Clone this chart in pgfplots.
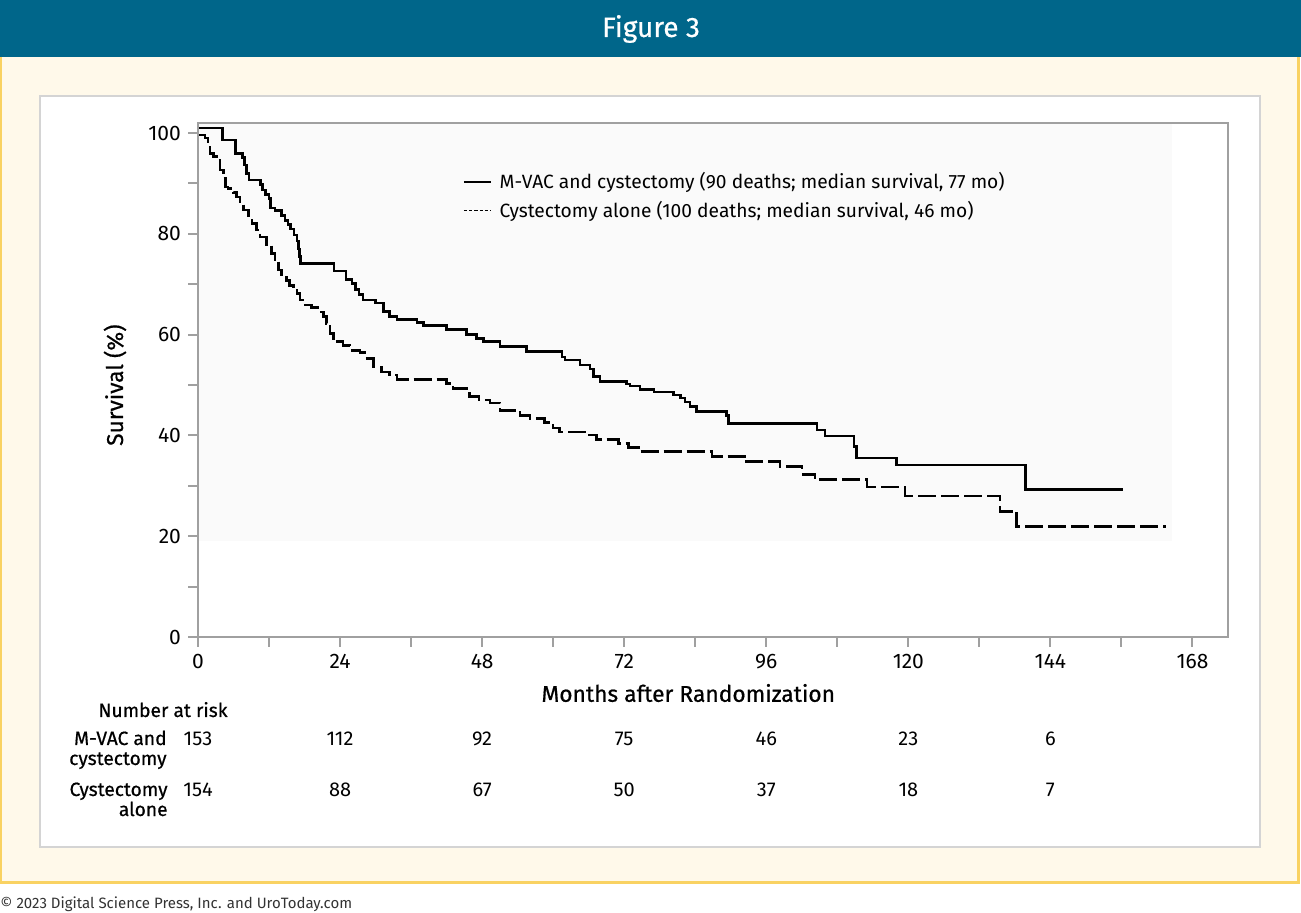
\documentclass[border=0pt]{standalone}
\usepackage{fontspec}
\setmainfont{Fira Sans}
\newfontfamily\medfont{Fira Sans}[FakeBold=0.6]
\usepackage{pgfplots}
\usepackage{pgfplotstable}
\pgfplotsset{compat=1.18}
\definecolor{headteal}{HTML}{00668A}
\definecolor{cream}{HTML}{FFF9EA}
\definecolor{gold}{HTML}{F9D262}
\definecolor{panelgray}{HTML}{D4D4D4}
\definecolor{axgray}{HTML}{A0A0A0}

\pgfplotstableread{
x y
0 101.0
4.1 98.6
6.3 96.0
7.5 95.2
7.9 93.7
8.2 92.0
8.6 90.7
10.6 89.8
10.9 88.7
11.4 87.8
12.0 87.0
12.2 85.1
13.0 84.6
14.1 83.7
14.7 82.7
15.2 81.8
15.6 81.0
16.2 79.8
16.7 78.6
17.0 77.0
17.1 75.5
17.3 74.1
23.0 72.6
25.0 71.0
26.0 70.2
26.6 69.0
27.2 68.0
27.9 66.9
30.0 66.3
31.3 64.6
32.4 63.6
33.6 63.0
37.0 62.4
38.1 61.8
42.0 61.0
45.4 60.0
47.0 59.2
48.2 58.6
51.0 57.6
55.5 56.6
61.5 55.6
62.0 55.0
64.5 54.0
66.2 53.2
66.8 51.7
67.9 50.7
72.4 50.2
73.0 49.8
74.7 49.1
77.0 48.6
80.3 48.0
81.5 47.4
82.3 46.6
83.1 45.7
84.2 44.7
89.3 44.0
89.6 42.4
104.6 41.1
105.9 39.9
110.8 37.8
111.2 35.5
118.0 34.1
139.8 29.3
156.3 29.3
}\mvac

\pgfplotstableread{
x y
0 99.6
1.2 99.0
1.7 98.0
2.0 96.0
2.6 95.3
3.2 94.6
3.7 92.7
4.3 91.0
4.6 89.3
5.1 89.0
6.0 88.2
6.5 87.3
7.1 86.0
7.7 84.7
8.5 83.6
9.1 82.1
9.9 80.8
10.5 79.4
11.6 77.8
12.4 76.1
13.0 74.8
13.6 72.8
14.1 71.8
15.0 70.8
15.5 69.8
16.1 69.2
16.7 68.2
17.2 66.9
18.1 65.9
19.2 65.4
20.3 64.5
21.2 63.6
21.7 62.2
22.3 60.2
22.9 58.6
24.5 57.9
25.7 56.9
27.4 56.5
28.2 55.3
29.6 53.6
31.0 52.6
32.4 52.0
33.6 51.1
42.0 50.3
43.1 49.3
45.4 48.8
45.9 47.7
47.5 47.0
49.3 46.4
51.0 45.0
54.4 44.0
56.1 43.4
58.5 42.6
60.0 41.5
61.1 40.7
65.9 40.1
67.3 39.2
71.0 38.4
72.7 37.6
74.7 36.8
86.8 35.8
92.7 34.8
98.3 33.8
102.0 32.3
104.2 31.2
113.0 29.8
119.4 28.0
135.5 24.9
138.3 21.9
163.6 21.9
}\cystonly

\pgfplotstableread{
x y n
0 -20.2 153
24 -20.2 112
48 -20.2 92
72 -20.2 75
96 -20.2 46
120 -20.2 23
144 -20.2 6
0 -30.4 154
24 -30.4 88
48 -30.4 67
72 -30.4 50
96 -30.4 37
120 -30.4 18
144 -30.4 7
}\atrisk

\begin{document}
\begin{tikzpicture}
\useasboundingbox (0,0) rectangle (650.5pt,-456.5pt);
\begin{scope}[x=0.5pt,y=-0.5pt]
\fill[white] (0,0) rectangle (1301,913);
\fill[headteal] (0,0) rectangle (1301,57);
\fill[cream] (0,57) rectangle (1300,884);
\draw[gold, line width=1.2pt] (1.2,57) -- (1.2,882.5) -- (1298.5,882.5) -- (1298.5,57);
\fill[white] (40,96) rectangle (1260,847);
\draw[panelgray, line width=1pt] (40,96) rectangle (1260,847);
\node[white, font=\medfont\fontsize{14}{16}\selectfont] at (651,29) {Figure 3};
\node[anchor=base west, font=\fontsize{7.5}{8}\selectfont, text=black!80, inner sep=0pt] at (0,908) {© 2023 Digital Science Press, Inc. and UroToday.com};
\begin{scope}[every node/.style={inner sep=0pt, font=\medfont\fontsize{9.6}{11}\selectfont}]
\node[anchor=base] at (163,717) {Number at risk};
\node[anchor=base east] at (167,745) {M-VAC and};
\node[anchor=base east] at (167,765) {cystectomy};
\node[anchor=base east] at (168,796) {Cystectomy};
\node[anchor=base east] at (168,816) {alone};
\end{scope}
\end{scope}
\begin{axis}[
  at={(99pt,-318.5pt)}, anchor=south west,
  scale only axis, width=515pt, height=257pt,
  xmin=0, xmax=174, ymin=0, ymax=102,
  clip=false, axis on top,
  axis line style={axgray, line width=1pt},
  tick style={axgray, line width=1pt},
  tick align=outside, major tick length=5pt,
  tick pos=left,
  xtick={0,12,...,168},
  xticklabels={0,{},24,{},48,{},72,{},96,{},120,{},144,{},168},
  ytick={0,10,...,100},
  yticklabels={0,{},20,{},40,{},60,{},80,{},100},
  ticklabel style={font=\fontsize{10.5}{12}\selectfont, text=black},
  /pgf/number format/assume math mode=true,
  xlabel={Months after Randomization},
  ylabel={Survival (\%)},
  xlabel style={at={(axis description cs:0.476,-0.109)}, anchor=center, font=\medfont\fontsize{11.4}{13}\selectfont},
  ylabel style={at={(axis description cs:-0.0806,0.49)}, anchor=center, font=\medfont\fontsize{11.4}{13}\selectfont},
  legend style={at={(axis description cs:0.257,0.912)}, anchor=north west, draw=none, fill=none,
    font=\fontsize{9.6}{11}\selectfont, row sep=0.5pt, inner sep=0pt,
    nodes={inner xsep=4pt}},
  legend cell align=left,
  legend image code/.code={\draw[#1] (0pt,0pt) -- (13.5pt,0pt);},
]
\addplot[forget plot, draw=none, fill=black!2] coordinates {(0,19) (164.5,19) (164.5,102) (0,102)};
\addplot[forget plot, const plot, black, line width=1.3pt] table {\mvac};
\addplot[forget plot, const plot, black, line width=1.3pt, dash pattern=on 9pt off 2.5pt] table {\cystonly};
\addplot[forget plot, draw=none, nodes near coords, point meta=explicit symbolic,
  nodes near coords style={anchor=center, font=\fontsize{10}{11}\selectfont, text=black}] table[meta=n] {\atrisk};
\addlegendimage{black, line width=0.8pt}
\addlegendentry{M-VAC and cystectomy (90 deaths; median survival, 77 mo)}
\addlegendimage{black, line width=0.8pt, dash pattern=on 1.6pt off 1pt}
\addlegendentry{Cystectomy alone (100 deaths; median survival, 46 mo)}
\end{axis}
\end{tikzpicture}
\end{document}
